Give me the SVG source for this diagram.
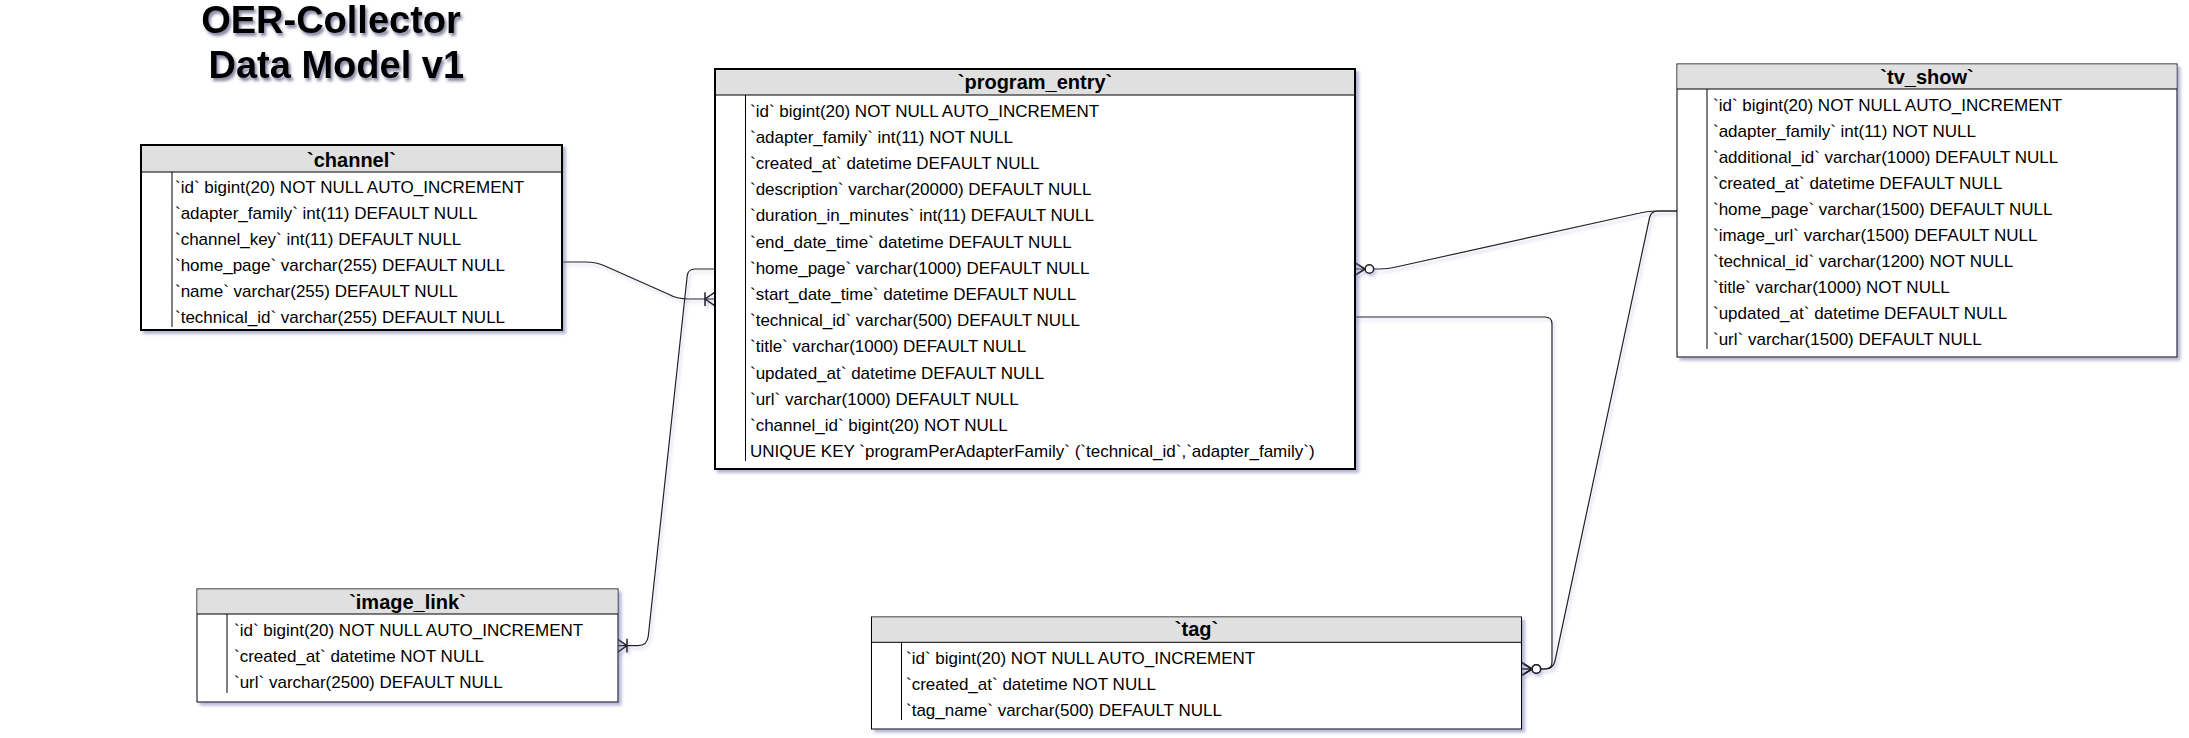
<svg xmlns="http://www.w3.org/2000/svg" width="2189" height="738" viewBox="0 0 2189 738">
<style>
  .bg { fill: #ffffff; }
  .box { fill: #ffffff; stroke: #000000; }
  .thick { stroke-width: 2; }
  .thin { stroke-width: 1; }
  .hdr { fill: #e0e0e0; stroke: none; }
  .sep { stroke: #000000; stroke-width: 1; fill: none; }
  .title { font-family: "Liberation Sans", Arial, sans-serif; font-weight: bold; font-size: 38px; fill: #000000; }
  .h { font-family: "Liberation Sans", Arial, sans-serif; font-weight: bold; font-size: 20px; fill: #000000; text-anchor: middle; }
  .r { font-family: "Liberation Sans", Arial, sans-serif; font-size: 17px; fill: #000000; }
  .edge { fill: none; stroke: #222222; stroke-width: 1.2; }
  .mk { fill: none; stroke: #222222; stroke-width: 1.2; }
  .mkc { fill: #ffffff; stroke: #222222; stroke-width: 1.2; }
</style>
<defs>
  <filter id="shadow" x="-5%" y="-5%" width="115%" height="115%">
    <feDropShadow dx="3" dy="3" stdDeviation="1.8" flood-color="#5a5aa0" flood-opacity="0.45"/>
  </filter>
  <filter id="lshadow" x="-5%" y="-5%" width="115%" height="115%">
    <feDropShadow dx="2" dy="3" stdDeviation="1.5" flood-color="#6a6ab0" flood-opacity="0.35"/>
  </filter>
  <filter id="tshadow" x="-10%" y="-20%" width="120%" height="150%">
    <feDropShadow dx="2" dy="3" stdDeviation="1.6" flood-color="#303060" flood-opacity="0.6"/>
  </filter>
  <marker id="oneMany" markerUnits="userSpaceOnUse" markerWidth="20" markerHeight="20" viewBox="-12 -8 14 16" refX="0" refY="0" orient="auto" overflow="visible">
    <path class="mk" d="M-8,0 L0,-5.5 M-8,0 L0,5.5 M-8,-5.5 L-8,5.5"/>
  </marker>
  <marker id="zeroMany" markerUnits="userSpaceOnUse" markerWidth="24" markerHeight="20" viewBox="-16 -8 18 16" refX="0" refY="0" orient="auto" overflow="visible">
    <path class="mk" d="M-8,0 L0,-5 M-8,0 L0,5"/>
    <circle class="mkc" cx="-11.5" cy="0" r="3.4"/>
  </marker>
</defs>
<rect class="bg" x="0" y="0" width="2189" height="738"/>

<g id="title" filter="url(#tshadow)">
  <text class="title" text-anchor="middle" xml:space="preserve"><tspan x="331" y="33">OER-Collector</tspan><tspan x="331" y="78"> Data Model v1</tspan></text>
</g>

<g id="connectors" filter="url(#lshadow)">
  <path id="e-channel-program" class="edge" marker-end="url(#oneMany)" d="M562,262 L586,262 Q596,262 605,266 L668,294 Q677,299 688,299 L715,299"/>
  <path id="e-program-image" class="edge" marker-end="url(#oneMany)" d="M715,269 L695,269 Q688,269 687.2,276 L648.3,636 Q647.3,645.7 638,645.7 L617,645.7"/>
  <path id="e-tvshow-program" class="edge" marker-end="url(#zeroMany)" d="M1677,211 L1656,211 Q1648,211 1640,213 L1396,267 Q1388,269 1380,269 L1355,269"/>
  <path id="e-tvshow-tag" class="edge" marker-end="url(#zeroMany)" d="M1677,211 L1658,211 Q1651,211 1649.5,218 L1555,661 Q1553,669 1545,669 L1522,669"/>
  <path id="e-program-tag" class="edge" marker-end="url(#zeroMany)" d="M1355,317 L1545,317 Q1552,317 1552,324 L1552,662 Q1552,669 1545,669 L1522,669"/>
</g>

<g id="channel">
  <rect class="box thick" x="141" y="145" width="421" height="185" filter="url(#shadow)"/>
  <rect class="hdr" x="142" y="146" width="419" height="26"/>
  <line class="sep" x1="141" y1="172" x2="562" y2="172"/>
  <line class="sep" x1="172" y1="172" x2="172" y2="327"/>
  <text class="h" x="351.5" y="167">`channel`</text>
  <text class="r" x="175" y="193">`id` bigint(20) NOT NULL AUTO_INCREMENT</text>
  <text class="r" x="175" y="219">`adapter_family` int(11) DEFAULT NULL</text>
  <text class="r" x="175" y="245">`channel_key` int(11) DEFAULT NULL</text>
  <text class="r" x="175" y="271">`home_page` varchar(255) DEFAULT NULL</text>
  <text class="r" x="175" y="297">`name` varchar(255) DEFAULT NULL</text>
  <text class="r" x="175" y="323">`technical_id` varchar(255) DEFAULT NULL</text>
</g>

<g id="program_entry">
  <rect class="box thick" x="715" y="69" width="640" height="400" filter="url(#shadow)"/>
  <rect class="hdr" x="716" y="70" width="638" height="25"/>
  <line class="sep" x1="715" y1="95" x2="1355" y2="95"/>
  <line class="sep" x1="745.5" y1="95" x2="745.5" y2="461"/>
  <text class="h" x="1035" y="89">`program_entry`</text>
  <text class="r" x="750" y="116.5">`id` bigint(20) NOT NULL AUTO_INCREMENT</text>
  <text class="r" x="750" y="142.7">`adapter_family` int(11) NOT NULL</text>
  <text class="r" x="750" y="168.9">`created_at` datetime DEFAULT NULL</text>
  <text class="r" x="750" y="195.1">`description` varchar(20000) DEFAULT NULL</text>
  <text class="r" x="750" y="221.3">`duration_in_minutes` int(11) DEFAULT NULL</text>
  <text class="r" x="750" y="247.5">`end_date_time` datetime DEFAULT NULL</text>
  <text class="r" x="750" y="273.7">`home_page` varchar(1000) DEFAULT NULL</text>
  <text class="r" x="750" y="299.9">`start_date_time` datetime DEFAULT NULL</text>
  <text class="r" x="750" y="326.1">`technical_id` varchar(500) DEFAULT NULL</text>
  <text class="r" x="750" y="352.3">`title` varchar(1000) DEFAULT NULL</text>
  <text class="r" x="750" y="378.5">`updated_at` datetime DEFAULT NULL</text>
  <text class="r" x="750" y="404.7">`url` varchar(1000) DEFAULT NULL</text>
  <text class="r" x="750" y="430.9">`channel_id` bigint(20) NOT NULL</text>
  <text class="r" x="750" y="457.1">UNIQUE KEY `programPerAdapterFamily` (`technical_id`,`adapter_family`)</text>
</g>

<g id="tv_show">
  <rect class="box thin" x="1677" y="64" width="500" height="293" filter="url(#shadow)"/>
  <rect class="hdr" x="1677.5" y="64.5" width="499" height="24.5"/>
  <line class="sep" x1="1677" y1="89" x2="2177" y2="89"/>
  <line class="sep" x1="1707" y1="89" x2="1707" y2="349"/>
  <text class="h" x="1927" y="84">`tv_show`</text>
  <text class="r" x="1713" y="110.5">`id` bigint(20) NOT NULL AUTO_INCREMENT</text>
  <text class="r" x="1713" y="136.5">`adapter_family` int(11) NOT NULL</text>
  <text class="r" x="1713" y="162.5">`additional_id` varchar(1000) DEFAULT NULL</text>
  <text class="r" x="1713" y="188.5">`created_at` datetime DEFAULT NULL</text>
  <text class="r" x="1713" y="214.5">`home_page` varchar(1500) DEFAULT NULL</text>
  <text class="r" x="1713" y="240.5">`image_url` varchar(1500) DEFAULT NULL</text>
  <text class="r" x="1713" y="266.5">`technical_id` varchar(1200) NOT NULL</text>
  <text class="r" x="1713" y="292.5">`title` varchar(1000) NOT NULL</text>
  <text class="r" x="1713" y="318.5">`updated_at` datetime DEFAULT NULL</text>
  <text class="r" x="1713" y="344.5">`url` varchar(1500) DEFAULT NULL</text>
</g>

<g id="image_link">
  <rect class="box thin" x="197" y="589" width="421" height="113" filter="url(#shadow)"/>
  <rect class="hdr" x="197.5" y="589.5" width="420" height="24.5"/>
  <line class="sep" x1="197" y1="614" x2="618" y2="614"/>
  <line class="sep" x1="227" y1="614" x2="227" y2="693"/>
  <text class="h" x="407.5" y="609">`image_link`</text>
  <text class="r" x="234" y="635.5">`id` bigint(20) NOT NULL AUTO_INCREMENT</text>
  <text class="r" x="234" y="661.5">`created_at` datetime NOT NULL</text>
  <text class="r" x="234" y="687.5">`url` varchar(2500) DEFAULT NULL</text>
</g>

<g id="tag">
  <rect class="box thin" x="871.5" y="617" width="650" height="112" filter="url(#shadow)"/>
  <rect class="hdr" x="872" y="617.5" width="649" height="24.8"/>
  <line class="sep" x1="871.5" y1="642.3" x2="1521.5" y2="642.3"/>
  <line class="sep" x1="901.5" y1="642.3" x2="901.5" y2="720"/>
  <text class="h" x="1196.5" y="636">`tag`</text>
  <text class="r" x="906" y="664">`id` bigint(20) NOT NULL AUTO_INCREMENT</text>
  <text class="r" x="906" y="690">`created_at` datetime NOT NULL</text>
  <text class="r" x="906" y="716">`tag_name` varchar(500) DEFAULT NULL</text>
</g>
</svg>
